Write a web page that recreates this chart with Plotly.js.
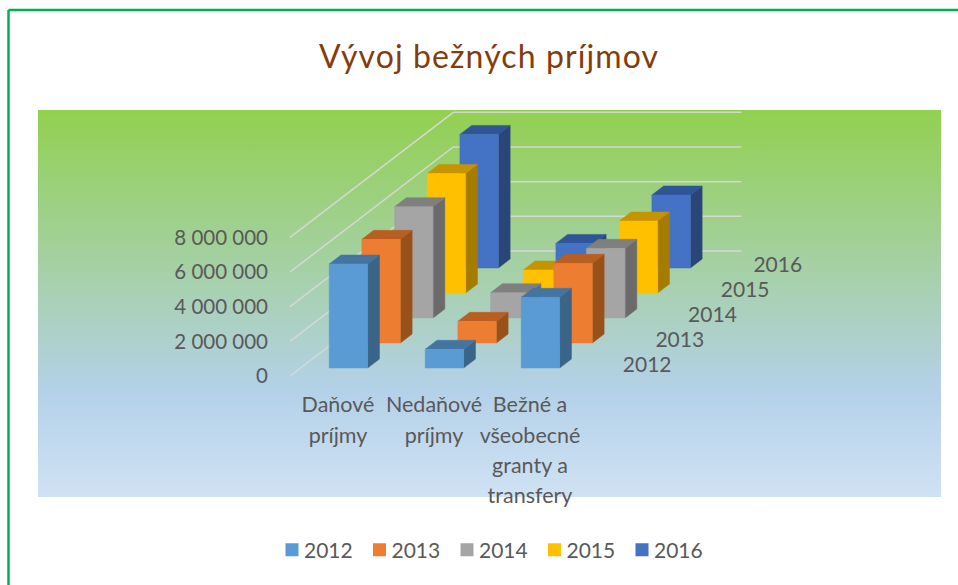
<!DOCTYPE html>
<html><head><meta charset="utf-8">
<script src="https://cdn.plot.ly/plotly-3.0.1.min.js"></script>
<style>html,body{margin:0;padding:0;background:#fff}#chart{width:958px;height:585px}</style>
</head><body><div id="chart"></div>
<script>
// ---- data ----
const categories = ['Daňové<br>príjmy', 'Nedaňové<br>príjmy', 'Bežné a<br>všeobecné<br>granty a<br>transfery'];
const years = ['2012', '2013', '2014', '2015', '2016'];
const v2012 = [6000000, 1080000, 4080000];
const v2013 = [5980000, 1250000, 4600000];
const v2014 = [6420000, 1460000, 4020000];
const v2015 = [6900000, 1330000, 4150000];
const v2016 = [7710000, 1420000, 4210000];
const series = [v2012, v2013, v2014, v2015, v2016];
const valueTicks = [0, 2000000, 4000000, 6000000, 8000000];

// ---- style ----
const frontColors = ['#5B9BD5', '#ED7D31', '#A5A5A5', '#FFC000', '#4472C4'];
const topColors   = ['#4475A1', '#B85E20', '#7F7F7F', '#C49500', '#2F5597'];
const sideColors  = ['#3A6488', '#9A5119', '#6B6B6B', '#A67C00', '#2A4678'];
const textColor = '#595959', gridColor = 'rgba(217,217,217,0.9)';
const font = 'Lato, Carlito, sans-serif';

// oblique projection: one depth slot shifts a mark right (category units) and up (value units)
const W = 958, H = 585, L = 38, R = 941, T = 110, B = 497;
const pxPerCat = 96, pxPerVal = 17.33 / 1e6;
const shearX = 32.67 / pxPerCat, shearY = 25 / pxPerVal;
const xRange = [-(290 - L) / pxPerCat, (R - 290) / pxPerCat];
const yRange = [-(B - 376) / pxPerVal, (376 - T) / pxPerVal];
const pX = (c, d) => c + d * shearX;
const pY = (v, d) => v + d * shearY;
const barLeft = 0.2995, barWidth = 0.401, depthA = 0.32, depthB = 0.68;

function faces(values, s) {
  const f = {front: {x: [], y: []}, top: {x: [], y: []}, side: {x: [], y: []}};
  values.forEach((v, c) => {
    const a = c + barLeft, b = a + barWidth, d0 = s + depthA, d1 = s + depthB;
    const add = (t, pts) => {
      pts.forEach(p => { t.x.push(pX(p[0], p[2])); t.y.push(pY(p[1], p[2])); });
      t.x.push(null); t.y.push(null);
    };
    add(f.front, [[a, 0, d0], [b, 0, d0], [b, v, d0], [a, v, d0], [a, 0, d0]]);
    add(f.top,   [[a, v, d0], [b, v, d0], [b, v, d1], [a, v, d1], [a, v, d0]]);
    add(f.side,  [[b, 0, d0], [b, 0, d1], [b, v, d1], [b, v, d0], [b, 0, d0]]);
  });
  return f;
}

const traces = [];
// plot-wall gradient
traces.push({type: 'scatter', mode: 'none', x: [xRange[0], xRange[1], xRange[1], xRange[0], xRange[0]],
  y: [yRange[0], yRange[0], yRange[1], yRange[1], yRange[0]], fill: 'toself', showlegend: false, hoverinfo: 'skip',
  fillgradient: {type: 'vertical', colorscale: [[0, 'rgb(208,226,243)'], [0.27, 'rgb(180,209,233)'], [1, 'rgb(146,208,80)']]}});
// legend entries
years.forEach((y, i) => traces.push({type: 'scatter', mode: 'markers', name: y, x: [null], y: [null],
  marker: {symbol: 'square', size: 13, color: frontColors[i]}, hoverinfo: 'skip'}));
// value gridlines: along the floor side wall, then across the back wall
valueTicks.forEach(v => traces.push({type: 'scatter', mode: 'lines', showlegend: false, hoverinfo: 'skip',
  x: [pX(0, 0), pX(0, years.length), pX(categories.length, years.length)],
  y: [pY(v, 0), pY(v, years.length), pY(v, years.length)],
  line: {color: gridColor, width: 1.5}}));
// bars, back row first
for (let s = series.length - 1; s >= 0; s--) {
  const f = faces(series[s], s);
  [[f.side, sideColors[s]], [f.top, topColors[s]], [f.front, frontColors[s]]].forEach(([t, col]) => {
    traces.push({type: 'scatter', mode: 'lines', x: t.x, y: t.y, fill: 'toself', fillcolor: col,
      line: {color: col, width: 0.5}, showlegend: false, hoverinfo: 'skip', connectgaps: false});
  });
}
// depth-axis labels
traces.push({type: 'scatter', mode: 'text', showlegend: false, hoverinfo: 'skip',
  x: years.map((y, i) => pX(3.55, i + 0.5)), y: years.map((y, i) => pY(-190000, i + 0.5)), text: years,
  textposition: 'middle center', textfont: {family: font, size: 21, color: textColor}, cliponaxis: false});

const tickSize = 23.3, catSize = 21.5, labelSize = 21;
const layout = {
  width: W, height: H, autosize: false,
  margin: {l: L, r: W - R, t: T, b: H - B, pad: 0},
  paper_bgcolor: '#fff', plot_bgcolor: 'rgba(0,0,0,0)',
  separators: ', ',
  title: {text: '<span style="letter-spacing:1.1px">Vývoj bežných príjmov</span>', font: {family: font, size: 32, color: '#843C0C'},
    xref: 'container', x: 489 / W, xanchor: 'center', yref: 'container', y: 1 - 57 / H, yanchor: 'middle'},
  xaxis: {range: xRange, showgrid: false, zeroline: false, showline: false, ticks: '', fixedrange: true,
    tickmode: 'array', tickvals: categories.map((c, i) => i + 0.5),
    ticktext: categories.map(c => c.split('<br>').map(l => `<span style="font-size:${catSize}px">${l}</span>`).join('<br>')),
    tickfont: {family: font, size: tickSize, color: textColor}, tickangle: 0,
    anchor: 'free', position: (B - 388) / (B - T)},
  yaxis: {range: yRange, showgrid: false, zeroline: false, showline: false, ticks: '', fixedrange: true,
    tickmode: 'array', tickvals: valueTicks, tickformat: ',d',
    tickfont: {family: font, size: 20.5, color: textColor},
    anchor: 'free', position: (268 - L) / (R - L)},
  legend: {orientation: 'h', xref: 'container', yref: 'container', x: 272 / W, xanchor: 'left', y: 1 - 550 / H, yanchor: 'middle',
    font: {family: font, size: labelSize, color: textColor}, entrywidth: 50.5, entrywidthmode: 'pixels', itemwidth: 30,
    bgcolor: 'rgba(0,0,0,0)', indentation: -8},
  shapes: [
    {type: 'line', xref: 'paper', yref: 'paper', layer: 'above', x0: (8.5 - L) / (R - L), x1: (8.5 - L) / (R - L), y0: (B - 10) / (B - T), y1: (B - H) / (B - T), line: {color: '#00B050', width: 2.5}},
    {type: 'line', xref: 'paper', yref: 'paper', layer: 'above', x0: (8.5 - L) / (R - L), x1: (W - L) / (R - L), y0: (B - 10) / (B - T), y1: (B - 10) / (B - T), line: {color: '#00B050', width: 2.5}}
  ],
  hovermode: false, dragmode: false
};
Plotly.newPlot('chart', traces, layout, {displayModeBar: false, responsive: false}).then(() => {
  // legend swatches sit closer to their labels than Plotly's default gap
  document.querySelectorAll('.legend .legendpoints').forEach(g => g.setAttribute('transform', 'translate(8,0)'));
});
</script></body></html>
